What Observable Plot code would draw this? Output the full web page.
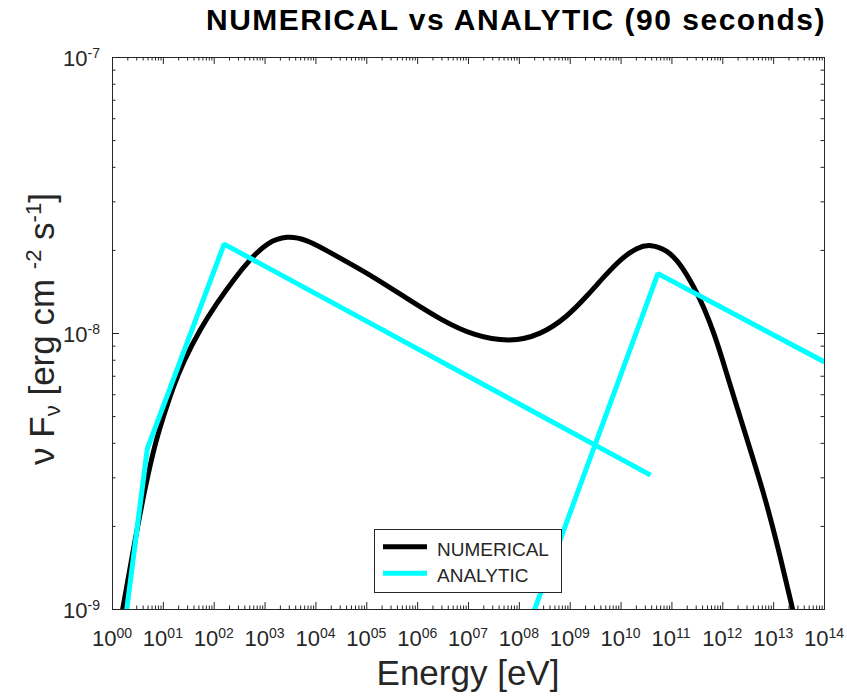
<!DOCTYPE html>
<html><head><meta charset="utf-8">
<script src="https://cdn.jsdelivr.net/npm/d3@7"></script>
<script src="https://cdn.jsdelivr.net/npm/@observablehq/plot@0.6"></script>
<style>
body{margin:0;background:#fff;font-family:"Liberation Sans",Arial,sans-serif;}
#title{height:40px;line-height:40px;font-weight:bold;font-size:30px;letter-spacing:1.5px;color:#000;white-space:nowrap;padding-left:206px;}
#chart svg{display:block;}
</style></head><body>
<div id="title">NUMERICAL vs ANALYTIC (90 seconds)</div>
<div id="chart"></div>
<script>
// ---- data (log10 of energy [eV] and log10 of flux) ----
const numericalLogE = [0.10, 0.20, 0.44, 0.66, 0.85, 1.02, 1.20, 1.40, 1.72, 2.05, 2.38, 2.71, 3.04, 3.43, 3.82, 4.22, 4.68, 5.13, 5.79, 6.45, 7.10, 7.82, 8.42, 8.94, 9.35, 9.66, 9.99, 10.32, 10.58, 10.91, 11.17, 11.43, 11.63, 11.83, 12.02, 12.20, 12.48, 12.81, 13.08, 13.37, 13.45];
const numericalLogF = [-9.10, -9.00, -8.75, -8.54, -8.39, -8.29, -8.19, -8.10, -7.985, -7.89, -7.805, -7.73, -7.67, -7.645, -7.66, -7.70, -7.748, -7.795, -7.873, -7.95, -8.008, -8.032, -8.005, -7.94, -7.86, -7.795, -7.73, -7.688, -7.676, -7.698, -7.748, -7.83, -7.905, -8.0, -8.11, -8.22, -8.385, -8.58, -8.77, -8.996, -9.06];
const analyticLowLogE = [0.20, 0.685, 2.195, 10.58];
const analyticLowLogF = [-9.115, -8.417, -7.676, -8.513];
const analyticHighLogE = [8.10, 10.724, 14.0];
const analyticHighLogF = [-9.10, -7.783, -8.103];

const seriesNames = ["NUMERICAL", "ANALYTIC"];
const seriesColors = ["#000000", "#00ffff"];
const xDecades = d3.range(0, 15);
const xTickLabels = ["00","01","02","03","04","05","06","07","08","09","10","11","12","13","14"];
const yDecades = [-9, -8, -7];
const yTickLabels = ["-9", "-8", "-7"];

const toRows = (le, lf) => le.map((e, i) => ({E: 10 ** e, F: 10 ** lf[i]}));
const numerical = toRows(numericalLogE, numericalLogF);
const analyticLow = toRows(analyticLowLogE, analyticLowLogF);
const analyticHigh = toRows(analyticHighLogE, analyticHighLogF);

const W = 847, H = 656, mL = 112, mR = 23, mT = 17, mB = 87;
const fw = W - mL - mR, fh = H - mT - mB;
const ax = "#262626";
const font = "'Liberation Sans', Arial, sans-serif";

const majorX = xDecades.map(d => 10 ** d);
const minorX = d3.range(0, 14).flatMap(d => d3.range(2, 10).map(k => k * 10 ** d));
const majorY = yDecades.map(d => 10 ** d);
const minorY = [-9, -8].flatMap(d => d3.range(2, 10).map(k => k * 10 ** d));
const MAJ = 7, MIN = 3.5;

const chart = Plot.plot({
  width: W, height: H,
  marginLeft: mL, marginRight: mR, marginTop: mT, marginBottom: mB,
  style: {background: "white", fontFamily: font},
  x: {type: "log", domain: [1, 1e14], axis: null},
  y: {type: "log", domain: [1e-9, 1e-7], axis: null},
  marks: [
    Plot.tickX(majorX, {x: d => d, insetTop: fh - MAJ, stroke: ax, strokeWidth: 1}),
    Plot.tickX(majorX, {x: d => d, insetBottom: fh - MAJ, stroke: ax, strokeWidth: 1}),
    Plot.tickX(minorX, {x: d => d, insetTop: fh - MIN, stroke: ax, strokeWidth: 1}),
    Plot.tickX(minorX, {x: d => d, insetBottom: fh - MIN, stroke: ax, strokeWidth: 1}),
    Plot.tickY(majorY, {y: d => d, insetRight: fw - MAJ, stroke: ax, strokeWidth: 1}),
    Plot.tickY(majorY, {y: d => d, insetLeft: fw - MAJ, stroke: ax, strokeWidth: 1}),
    Plot.tickY(minorY, {y: d => d, insetRight: fw - MIN, stroke: ax, strokeWidth: 1}),
    Plot.tickY(minorY, {y: d => d, insetLeft: fw - MIN, stroke: ax, strokeWidth: 1}),
    Plot.frame({stroke: ax, strokeWidth: 1}),
    Plot.line(numerical, {x: "E", y: "F", stroke: seriesColors[0], strokeWidth: 5, curve: "basis", clip: true, strokeLinecap: "butt"}),
    Plot.line(analyticLow, {x: "E", y: "F", stroke: seriesColors[1], strokeWidth: 5, clip: true, strokeLinejoin: "miter", strokeLinecap: "butt"}),
    Plot.line(analyticHigh, {x: "E", y: "F", stroke: seriesColors[1], strokeWidth: 5, clip: true, strokeLinejoin: "miter", strokeLinecap: "butt"})
  ]
});

const svg = d3.select(chart);
const xs = chart.scale("x"), ys = chart.scale("y");
const g = svg.append("g").attr("font-family", font).attr("fill", ax);

// x tick labels: "10" plus superscript exponent
xDecades.forEach((d, i) => {
  const cx = xs.apply(10 ** d), by = H - mB + 37;
  g.append("text").attr("x", cx + 4.5).attr("y", by).attr("text-anchor", "end")
    .attr("font-size", 22).text("10");
  g.append("text").attr("x", cx + 4.5).attr("y", by - 8).attr("text-anchor", "start")
    .attr("font-size", 14).text(xTickLabels[i]);
});
// y tick labels
yDecades.forEach((d, i) => {
  const py = ys.apply(10 ** d);
  g.append("text").attr("x", mL - 12 - 12.5).attr("y", py + 9).attr("text-anchor", "end")
    .attr("font-size", 22).text("10");
  g.append("text").attr("x", mL - 12 - 12.5).attr("y", py + 1).attr("text-anchor", "start")
    .attr("font-size", 14).text(yTickLabels[i]);
});
// x axis label
g.append("text").attr("x", mL + fw / 2).attr("y", H - 11).attr("text-anchor", "middle")
  .attr("font-size", 35).text("Energy [eV]");
// y axis label
const yl = g.append("text").attr("transform", `translate(54,${mT + fh / 2 - 4}) rotate(-90)`)
  .attr("text-anchor", "middle").attr("font-size", 35).style("white-space", "pre");
yl.append("tspan").text("ν F");
yl.append("tspan").attr("font-size", 22).attr("dy", 6).text("ν");
yl.append("tspan").attr("dy", -6).text(" [erg cm ");
yl.append("tspan").attr("font-size", 22).attr("dy", -13).text("-2");
yl.append("tspan").attr("dy", 13).text(" s");
yl.append("tspan").attr("font-size", 22).attr("dy", -13).text("-1");
yl.append("tspan").attr("dy", 13).text("]");

// legend
const lg = svg.append("g").attr("font-family", font).attr("text-anchor", "start");
lg.append("rect").attr("x", 374.5).attr("y", 489.5).attr("width", 187).attr("height", 63)
  .attr("fill", "white").attr("stroke", ax).attr("stroke-width", 1);
seriesNames.forEach((name, i) => {
  const yy = 506.7 + i * 26.6;
  lg.append("line").attr("x1", 383).attr("x2", 427).attr("y1", yy).attr("y2", yy)
    .attr("stroke", seriesColors[i]).attr("stroke-width", 5);
  lg.append("text").attr("x", 437).attr("y", yy + 9).attr("font-size", 19)
    .attr("text-anchor", "start").attr("fill", ax).text(name);
});

document.getElementById("chart").appendChild(chart);
</script>
</body></html>
